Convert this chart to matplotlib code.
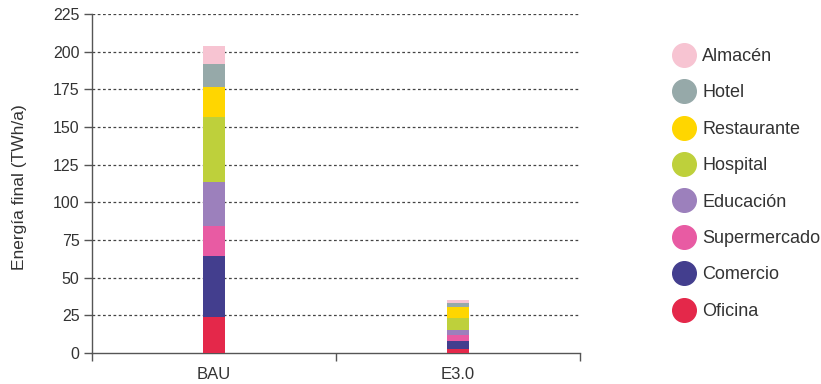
import matplotlib
matplotlib.use("Agg")
import matplotlib.pyplot as plt
from matplotlib.lines import Line2D
import numpy as np

plt.rcParams['font.family'] = ['Liberation Sans', 'DejaVu Sans']

scenarios = ["BAU", "E3.0"]
sectors = ["Oficina", "Comercio", "Supermercado", "Educación",
           "Hospital", "Restaurante", "Hotel", "Almacén"]
colors = ["#E4284A", "#433E8E", "#E85BA3", "#9C80BC",
          "#BED03B", "#FFD600", "#96A9A9", "#F7C4D2"]

# TWh/a per sector, [BAU, E3.0]
oficina = [23.7, 2.7]
comercio = [40.7, 5.3]
supermercado = [20.1, 3.9]
educacion = [29.2, 3.4]
hospital = [42.7, 7.9]
restaurante = [19.9, 7.3]
hotel = [15.5, 2.7]
almacen = [11.9, 1.8]
values = [oficina, comercio, supermercado, educacion,
          hospital, restaurante, hotel, almacen]

text_color = "#333333"
fig = plt.figure(figsize=(8.21, 3.84), dpi=100)
ax = fig.add_axes([92 / 821, 1 - 353 / 384, 488 / 821, 339 / 384])

x = np.arange(len(scenarios))
bottom = np.zeros(len(scenarios))
for name, vals, c in zip(sectors, values, colors):
    ax.bar(x, vals, width=0.09, bottom=bottom, color=c, label=name, zorder=3)
    bottom += np.array(vals)

ax.set_xlim(-0.5, 1.5)
ax.set_ylim(0, 225)
ax.set_yticks(range(0, 226, 25))
for yv in range(25, 226, 25):
    ax.axhline(yv, color="#444444", lw=0.9, ls=(0, (2.2, 2)), zorder=1)

ax.set_xticks(x)
ax.set_xticklabels(scenarios)
ax.set_xticks([-0.5, 0.5, 1.5], minor=True)
ax.tick_params(axis="x", which="major", length=0, pad=10, labelsize=12, labelcolor=text_color)
ax.tick_params(axis="x", which="minor", length=6, width=1, color="#555555")
ax.tick_params(axis="y", length=6, width=1, color="#555555", labelsize=11.5,
               labelcolor=text_color, pad=3)

for s in ["top", "right"]:
    ax.spines[s].set_visible(False)
for s in ["left", "bottom"]:
    ax.spines[s].set_color("#555555")
    ax.spines[s].set_linewidth(1)

ax.set_ylabel("Energía final (TWh/a)", fontsize=12.5, color=text_color)
ax.yaxis.set_label_coords(-0.133, 0.49)

handles = [Line2D([], [], marker="o", ls="none", markersize=17, color=c)
           for c in colors]
leg = fig.legend(handles[::-1], sectors[::-1], loc="upper left",
                 bbox_to_anchor=(675 / 821, 1 - 48 / 384), frameon=False,
                 fontsize=13, labelspacing=1.075, handletextpad=0.45,
                 handlelength=1.05, borderpad=0, borderaxespad=0)
for t in leg.get_texts():
    t.set_color(text_color)

fig.savefig("out.png", dpi=100)
